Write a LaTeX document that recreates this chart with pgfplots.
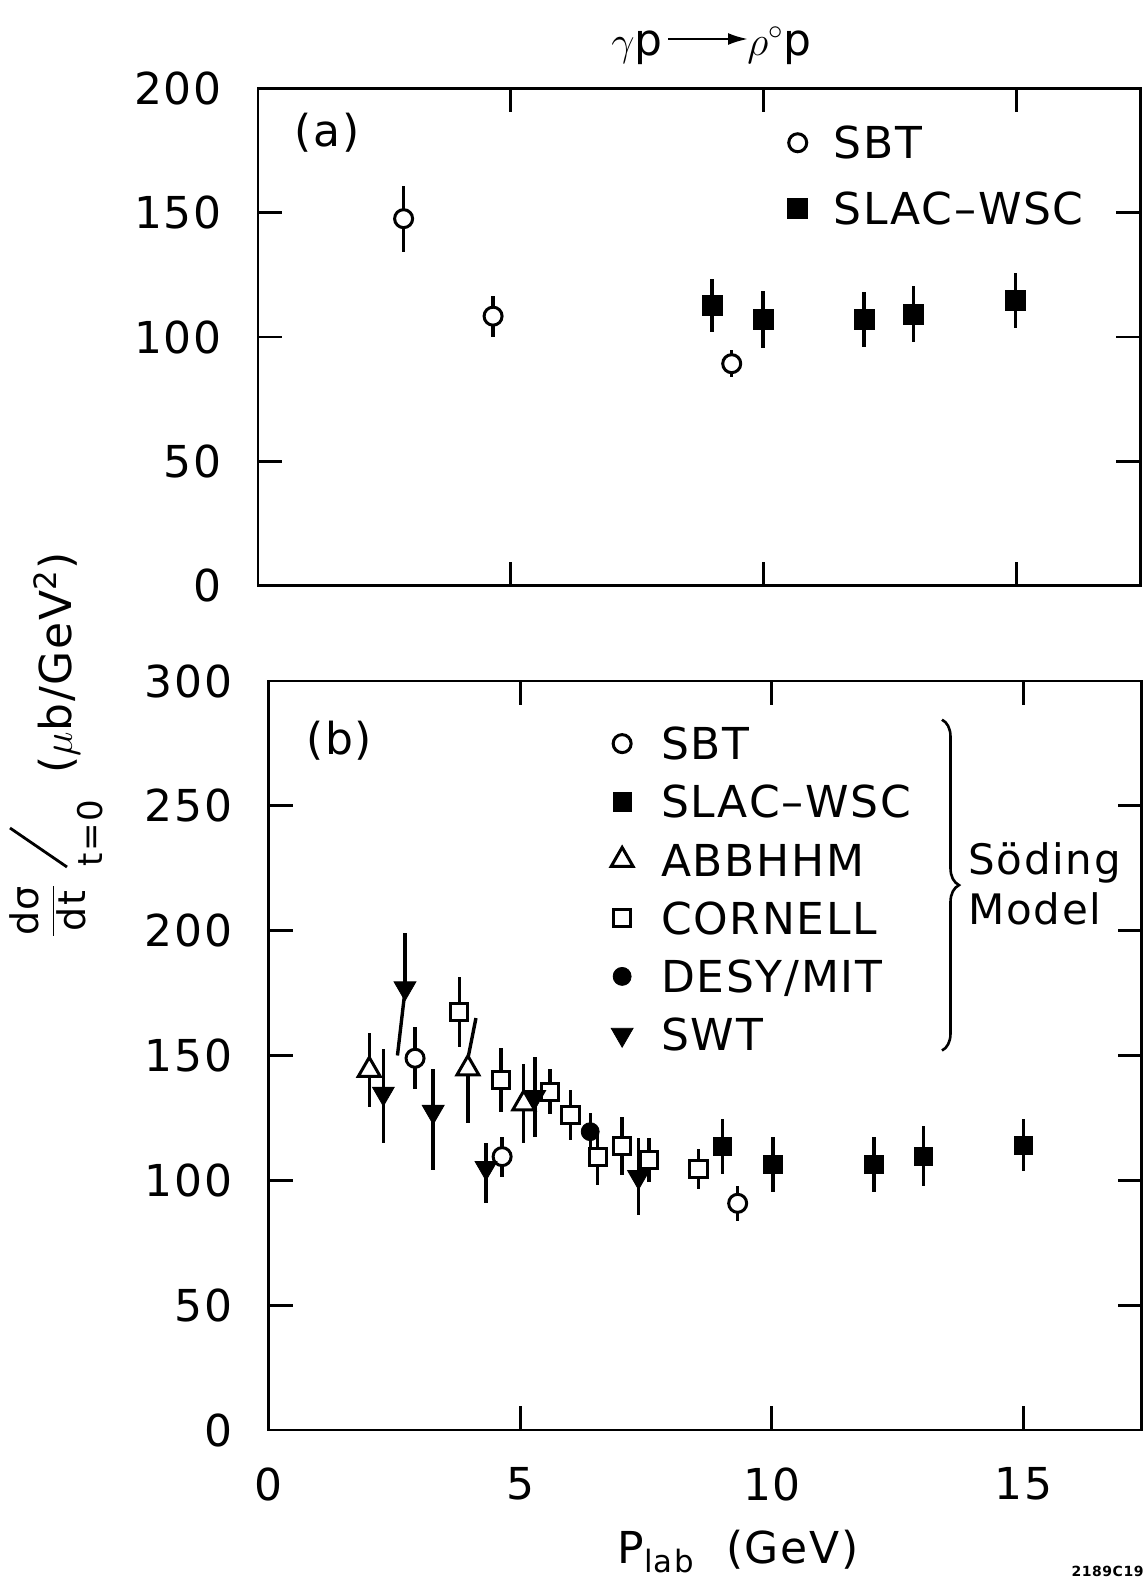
\documentclass[border=0pt]{standalone}
\usepackage{pgfplots}
\pgfplotsset{compat=1.18}
\usepackage{fontspec}
\setmainfont{DejaVu Sans}[LetterSpace=4]
\usetikzlibrary{arrows.meta, decorations.pathreplacing}
\newcommand\bigf{\fontsize{22}{26}\selectfont}
\pgfplotsset{
  common/.style={scale only axis, xmin=0, tick align=inside, major tick length=12pt,
    axis line style={line width=1.4pt}, tick style={line width=1.4pt, black},
    ticklabel style={font=\bigf}, /pgf/number format/assume math mode=true,
    xtick={0,5,10,15},
    yticklabel style={anchor=east, inner sep=0pt, xshift=-18pt},
    xticklabel style={anchor=north, inner sep=0pt, yshift=-18.5pt},
    legend cell align=left},
  eb/.style={error bars/.cd, y dir=both, y explicit, error mark=none,
    error bar style={line width=1.7pt, black}},
  sbt/.style={only marks, mark=*, mark size=4.5pt, mark options={fill=white, draw=black, line width=1.5pt}},
  slac/.style={only marks, mark=square*, mark size=5pt, mark options={fill=black, draw=black}},
  abb/.style={only marks, mark=triangle*, mark size=6.3pt, mark options={fill=white, draw=black, line width=1.5pt}},
  cor/.style={only marks, mark=square*, mark size=4.3pt, mark options={fill=white, draw=black, line width=1.5pt}},
  desy/.style={only marks, mark=*, mark size=4.5pt, mark options={fill=black, draw=black}},
  swt/.style={only marks, mark=triangle*, mark size=6.3pt, mark options={fill=black, draw=black, rotate=180}},
}
\begin{document}
\begin{tikzpicture}
% ---------- top panel (a)
\begin{axis}[common, at={(129pt,-292.9pt)}, anchor=south west,
  width=441.1pt, height=248.75pt, xmax=17.45, ymin=0, ymax=200,
  ytick={0,50,100,150,200}, xticklabels={},
  legend style={draw=none, fill=none, font=\bigf, at={(axis cs:10.47,184.7)}, anchor=north west,
    inner sep=0pt, row sep=17pt, column sep=13pt, nodes={inner sep=0pt, text height=16pt, text depth=0pt}}]
\addplot[sbt, eb] coordinates {
  (2.88,147.6) +- (0,13.3)
  (4.65,108.4) +- (0,8.3)
  (9.37,89.3) +- (0,5.5)};
\addlegendentry{SBT}
\addplot[slac, eb] coordinates {
  (8.98,112.7) +- (0,10.5)
  (9.99,107.0) +- (0,11.5)
  (11.99,107.0) +- (0,11)
  (12.97,109.3) +- (0,11.2)
  (14.98,114.7) +- (0,11)};
\addlegendentry{SLAC--WSC}
\node[font=\bigf] at (axis cs:1.37,182) {(a)};
\end{axis}
% ---------- bottom panel (b)
\begin{axis}[common, at={(134.3pt,-715pt)}, anchor=south west,
  width=436.6pt, height=374.5pt, xmax=17.35, ymin=0, ymax=300,
  ytick={0,50,100,150,200,250,300},
  xlabel={P\textsubscript{lab}\ \ (GeV)},
  xlabel style={font=\bigf, at={(axis cs:9.33,0)}, anchor=base, yshift=-66.5pt, inner sep=0pt},
  legend style={draw=none, fill=none, font=\bigf, at={(axis cs:6.80,281.5)}, anchor=north west,
    inner sep=0pt, row sep=13.1pt, column sep=14pt, nodes={inner sep=0pt, text height=16pt, text depth=0pt}}]
% slanted error-bar segments
\addplot[black, line width=1.7pt, forget plot] coordinates {(2.71,176) (2.56,150)};
\addplot[black, line width=1.7pt, forget plot] coordinates {(3.97,149.8) (4.12,165)};
\addplot[sbt, eb] coordinates {
  (2.91,148.9) +- (0,12.5)
  (4.64,109.5) +- (0,8)
  (9.32,90.8) +- (0,7)};
\addlegendentry{SBT}
\addplot[slac, mark size=4.6pt, eb] coordinates {
  (9.02,113.5) +- (0,11)
  (10.02,106.5) +- (0,11)
  (12.03,106.5) +- (0,11)
  (13.01,109.6) +- (0,12)
  (15.0,114.1) +- (0,10.5)};
\addlegendentry{SLAC--WSC}
\addplot[abb, eb] coordinates {
  (2.0,144.2) +- (0,15)
  (3.96,144.8) += (0,0) -= (0,22)
  (5.07,130.8) +- (0,16)};
\addlegendentry{ABBHHM}
\addplot[cor, eb] coordinates {
  (3.79,167.5) +- (0,14)
  (4.62,140.2) +- (0,13)
  (5.59,135.5) +- (0,9)
  (6.0,126.2) +- (0,10)
  (6.54,109.2) +- (0,11)
  (7.02,113.7) +- (0,11.5)
  (7.56,108.1) +- (0,8.7)
  (8.54,104.4) +- (0,8)};
\addlegendentry{CORNELL}
\addplot[desy, eb] coordinates {
  (6.39,119.5) +- (0,7.3)};
\addlegendentry{DESY/MIT}
\addplot[swt, eb] coordinates {
  (2.28,134.8) += (0,18) -= (0,20)
  (2.71,177.0) += (0,22) -= (0,0)
  (3.27,127.5) += (0,17.3) -= (0,23.4)
  (4.32,105.0) += (0,10) -= (0,14)
  (5.29,133.5) +- (0,16)
  (7.35,101.4) +- (0,15.4)};
\addlegendentry{SWT}
\node[font=\bigf] at (axis cs:1.4,276) {(b)};
\draw[decorate, decoration={brace, amplitude=8.5pt}, line width=1.3pt]
  (axis cs:13.38,284.5) -- (axis cs:13.38,152);
\node[font=\fontsize{21}{25}\selectfont, anchor=west, align=left, inner sep=0pt]
  at (axis cs:13.9,218.7) {Söding\\Model};
\end{axis}
% ---------- title
\node[anchor=base east, font=\bigf, inner sep=0pt] at (331.5pt,-27.5pt) {$\gamma$p};
\draw[line width=1.2pt, -{Latex[length=10pt,width=6pt]}] (334pt,-19.5pt) -- (374pt,-19.5pt);
\node[anchor=base west, font=\bigf, inner sep=0pt] at (373.5pt,-27.5pt) {$\rho^{\circ}$p};
% ---------- y label
\node[rotate=90, inner sep=0pt, font=\fontsize{19}{21}\selectfont] at (24pt,-455.5pt)
  {$\displaystyle\frac{\mbox{dσ}}{\mbox{dt}}$};
\draw[line width=1.4pt] (5pt,-414pt) -- (33.5pt,-433.5pt);
\node[rotate=90, inner sep=0pt, font=\fontsize{17}{19}\selectfont] at (45pt,-416.5pt) {t=0};
\node[rotate=90, inner sep=0pt, font=\fontsize{22}{26}\selectfont] at (28.5pt,-331.5pt)
  {($\mu$b/GeV\textsuperscript{2})};
% ---------- figure id
\node[anchor=base east, inner sep=0pt, font=\bfseries\fontsize{7}{8}\selectfont] at (572pt,-788pt) {2189C19};
\pgfresetboundingbox
\useasboundingbox (0pt,0pt) rectangle (573pt,-790pt);
\end{tikzpicture}
\end{document}
